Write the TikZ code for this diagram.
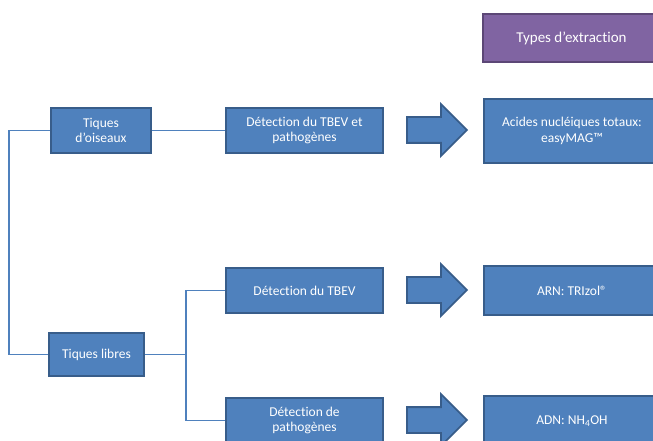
\documentclass[tikz,border=0pt]{standalone}
\usepackage{fontspec}
\setmainfont[Ligatures=NoCommon]{Carlito}
\usetikzlibrary{shapes.arrows}
\definecolor{Fill}{HTML}{4F81BD}
\definecolor{Edge}{HTML}{385D8A}
\definecolor{Violet}{HTML}{8064A2}
\definecolor{VioletEdge}{HTML}{5C4776}

\begin{document}
\begin{tikzpicture}[x=1bp,y=-1bp,
box/.style={draw=Edge,line width=2bp,fill=Fill,text=white,align=center,inner sep=2bp,font=\fontsize{13.5bp}{15.5bp}\selectfont},
head/.style={box,draw=VioletEdge,fill=Violet,font=\fontsize{15bp}{17bp}\selectfont},
bigarr/.style={draw=Edge,line width=1.8bp,fill=Fill,single arrow,single arrow head extend=13bp,inner sep=12bp,minimum height=60bp,anchor=tail},
link/.style={draw=Fill,line width=1.5bp}]
\clip (0,0) rectangle (653,441);
\node[head,minimum width=177bp,minimum height=48bp] (types) at (571.5,38) {Types d’extraction};
\node[box,minimum width=100bp,minimum height=45bp] (oiseaux) at (101,130.5) {Tiques\\d’oiseaux};
\node[box,minimum width=157bp,minimum height=45bp] (both) at (304.5,130.5) {Détection du TBEV et\\pathogènes};
\node[bigarr] (arrboth) at (406,130) {};
\node[box,minimum width=176bp,minimum height=64bp] (total) at (572,131) {Acides nucléiques totaux:\\easyMAG™};
\node[box,minimum width=95bp,minimum height=43bp] (libres) at (96.5,354.5) {Tiques libres};
\node[box,minimum width=157bp,minimum height=45bp] (tbev) at (304.5,290.5) {Détection du TBEV};
\node[bigarr] (arrtbev) at (406,290) {};
\node[box,minimum width=176bp,minimum height=49bp] (arn) at (572,290.5) {ARN: TRIzol®};
\node[box,minimum width=157bp,minimum height=45bp] (patho) at (304.5,420.5) {Détection de\\pathogènes};
\node[bigarr] (arrpatho) at (406,420) {};
\node[box,minimum width=176bp,minimum height=50bp] (adn) at (572,421) {ADN: NH\textsubscript{4}OH};
\draw[link] (oiseaux.west) -- ++(-41,0) |- (libres.west);
\draw[link] (oiseaux) -- (both);
\draw[link] (libres.east) -- ++(41,0) coordinate (split);
\draw[link] (split) |- (tbev.west);
\draw[link] (split) |- (patho.west);
\end{tikzpicture}
\end{document}
